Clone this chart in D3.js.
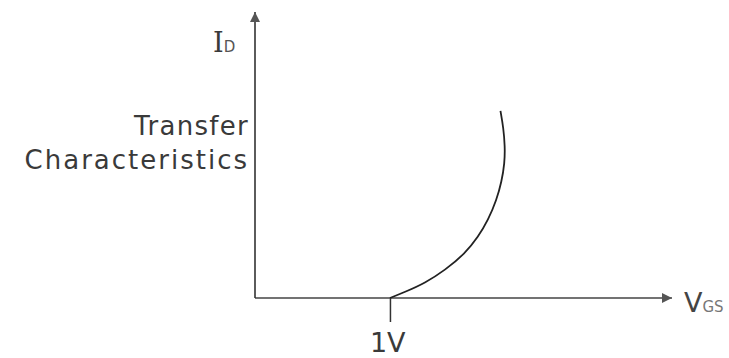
<!DOCTYPE html>
<html>
<head>
<meta charset="utf-8">
<script src="https://cdn.jsdelivr.net/npm/d3@7"></script>
<style>
  body { margin: 0; background: #fff; }
  svg text { font-family: "DejaVu Sans", sans-serif; fill: #3a3a3a; }
</style>
</head>
<body>
<div id="chart"></div>
<script>
// transfer characteristic (VGS in volts, ID in arbitrary units)
var vgs = [1.000, 1.111, 1.259, 1.407, 1.556, 1.654, 1.728, 1.790, 1.827, 1.850, 1.852, 1.841, 1.819];
var id  = [0.00, 0.21, 0.52, 0.97, 1.55, 2.14, 2.73, 3.43, 4.06, 4.72, 5.31, 5.94, 6.54];
var xTicks = [1];
var xTickLabels = ["1V"];

var width = 729, height = 358;

var svg = d3.select("#chart")
  .append("svg")
    .attr("width", width)
    .attr("height", height);

var x = d3.scaleLinear()
  .domain([0, 3.09])
  .range([255, 672]);

var y = d3.scaleLinear()
  .domain([0, 10])
  .range([298, 12]);

// arrow heads
svg.append("defs").append("marker")
    .attr("id", "arrow")
    .attr("viewBox", "0 0 10 10")
    .attr("refX", 10)
    .attr("refY", 5)
    .attr("markerWidth", 11)
    .attr("markerHeight", 10)
    .attr("markerUnits", "userSpaceOnUse")
    .attr("orient", "auto")
  .append("path")
    .attr("d", "M0,0 L10,5 L0,10 z")
    .attr("fill", "#555");

// X axis, only the 1V tick
svg.append("g")
  .attr("transform", "translate(0," + y(0) + ")")
  .call(d3.axisBottom(x)
    .tickValues(xTicks)
    .tickFormat(function(d, i) { return xTickLabels[i]; })
    .tickSize(24)
    .tickPadding(11))
  .call(function(g) { g.select(".domain").remove(); })
  .call(function(g) {
    g.selectAll("line").attr("stroke", "#333").attr("stroke-width", 1.5);
    g.selectAll("text")
      .attr("font-size", 27)
      .style("font-family", "DejaVu Sans, sans-serif")
      .attr("fill", "#3a3a3a")
      .attr("dx", "-0.1em");
  });

// axis lines
svg.append("line")
  .attr("x1", x(0)).attr("y1", y(0))
  .attr("x2", x(3.09)).attr("y2", y(0))
  .attr("stroke", "#444").attr("stroke-width", 1.6)
  .attr("marker-end", "url(#arrow)");

svg.append("line")
  .attr("x1", x(0)).attr("y1", y(0))
  .attr("x2", x(0)).attr("y2", y(10))
  .attr("stroke", "#333").attr("stroke-width", 1.6)
  .attr("marker-end", "url(#arrow)");

// curve
var pts = vgs.map(function(v, i) { return [v, id[i]]; });
var line = d3.line()
  .x(function(d) { return x(d[0]); })
  .y(function(d) { return y(d[1]); })
  .curve(d3.curveBasis);

svg.append("path")
  .datum(pts)
  .attr("d", line)
  .attr("fill", "none")
  .attr("stroke", "#222")
  .attr("stroke-width", 1.8);

// axis labels
var idLabel = svg.append("text")
  .attr("x", 213)
  .attr("y", 52)
  .attr("font-size", 27);
idLabel.append("tspan").text("I").style("font-family", "DejaVu Serif, serif");
idLabel.append("tspan").text("D").attr("font-size", 15).attr("fill", "#555");

var vLabel = svg.append("text")
  .attr("x", 684)
  .attr("y", 312)
  .attr("font-size", 27);
vLabel.append("tspan").text("V").attr("fill", "#444");
vLabel.append("tspan").text("GS").attr("font-size", 15).attr("fill", "#777");

// curve caption
svg.append("text")
  .attr("x", 249)
  .attr("y", 135)
  .attr("text-anchor", "end")
  .attr("font-size", 26)
  .attr("letter-spacing", 1.3)
  .text("Transfer");

svg.append("text")
  .attr("x", 249)
  .attr("y", 169)
  .attr("text-anchor", "end")
  .attr("font-size", 26)
  .attr("letter-spacing", 2)
  .text("Characteristics");
</script>
</body>
</html>
